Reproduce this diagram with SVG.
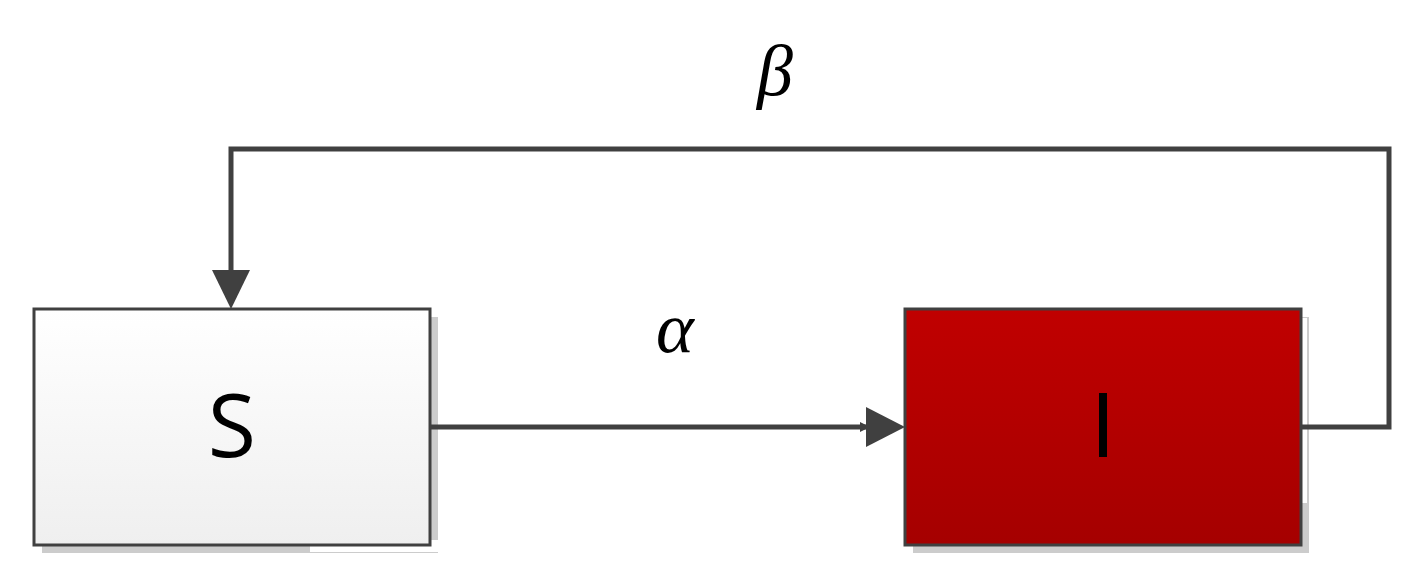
<svg xmlns="http://www.w3.org/2000/svg" width="1419" height="575" viewBox="0 0 1419 575">
<defs>
<linearGradient id="gs" x1="0" y1="0" x2="0" y2="1"><stop offset="0" stop-color="#ffffff"/><stop offset="1" stop-color="#efefef"/></linearGradient>
<linearGradient id="gi" x1="0" y1="0" x2="0" y2="1"><stop offset="0" stop-color="#c00000"/><stop offset="1" stop-color="#a50000"/></linearGradient>
<marker id="ah" viewBox="0 0 10 10" refX="10" refY="5" markerWidth="10" markerHeight="10" markerUnits="userSpaceOnUse" orient="auto"><path d="M0,0 L10,5 L0,10 Z" fill="#404040"/></marker>
<style>.sh{fill:#cccccc}.box{stroke:#404040;stroke-width:3}.lbl{font-family:"Open Sans","DejaVu Sans",sans-serif;font-size:88px;fill:#000;text-anchor:middle}.gr{font-family:"Liberation Serif",serif;font-style:italic;font-size:72px;fill:#000;text-anchor:middle}.c{fill:none;stroke:#404040;stroke-width:5}</style>
</defs>
<g id="S">
<rect class="sh" x="42" y="317" width="396" height="236"/>
<rect x="310" y="540" width="128" height="12" fill="#fff"/>
<rect x="34" y="309" width="396" height="236" fill="url(#gs)" class="box"/>
<text class="lbl" x="232" y="457">S</text>
</g>
<g id="I">
<rect class="sh" x="913" y="317" width="396" height="236"/>
<rect x="1302" y="318" width="5" height="185" fill="#fff"/>
<rect x="905" y="309" width="396" height="236" fill="url(#gi)" class="box"/>
<rect x="1099" y="393" width="8" height="64" fill="#000"/>
</g>
<g id="connectors">
<path class="c" d="M430,427 H870" marker-end="url(#ah)"/>
<path d="M866,407 L905,427 L866,447 Z" fill="#404040"/>
<path class="c" d="M1301,427 H1389 V149 H231 V275"/>
<path d="M212,270 L231,309 L250,270 Z" fill="#404040"/>
<text class="gr" x="675" y="352">α</text>
<text class="gr" x="775" y="95">β</text>
</g>
</svg>
